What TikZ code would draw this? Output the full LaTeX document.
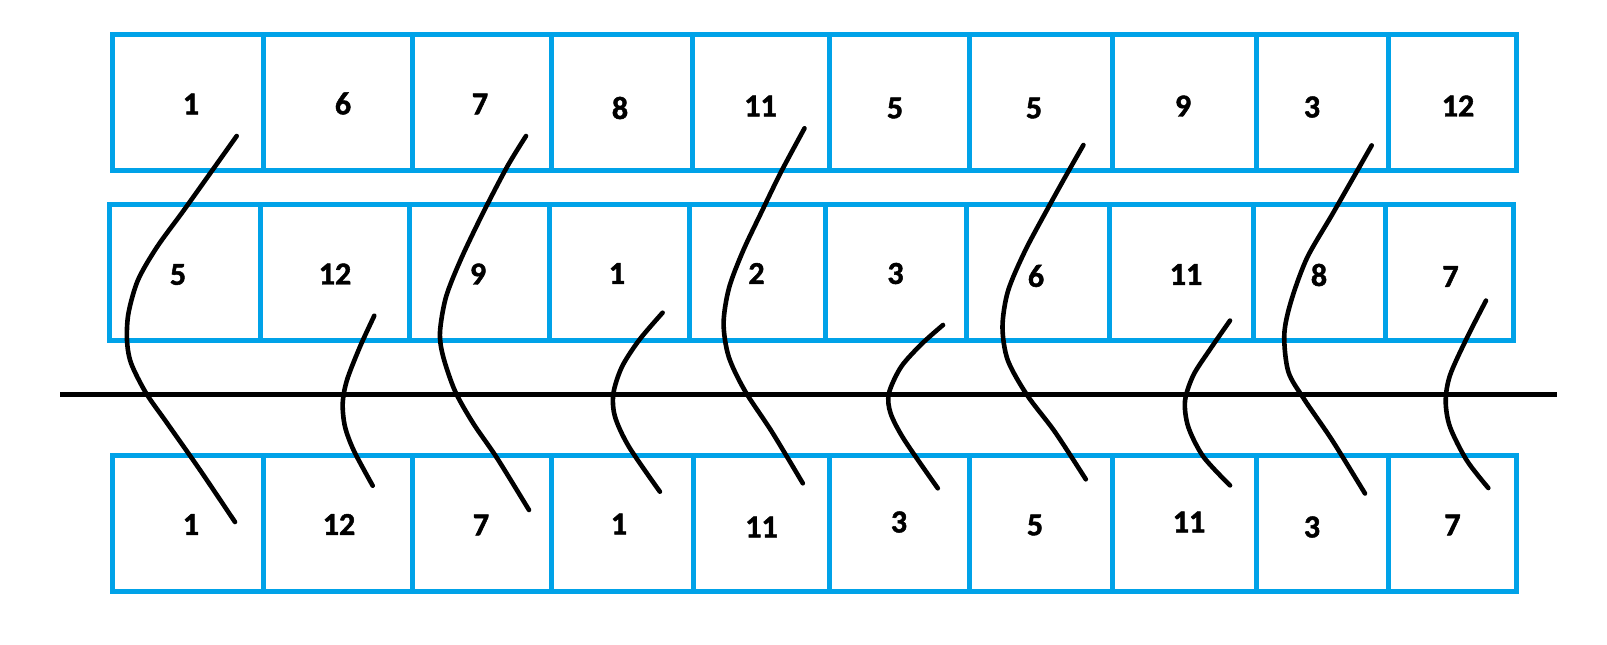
\documentclass[tikz,border=0pt]{standalone}
\usepackage{fontspec}
\setmainfont{Carlito}
\newfontfamily\digitfont{Carlito}[BoldFont={Carlito Bold},BoldFeatures={FakeBold=1.5}]
\definecolor{paintblue}{RGB}{0,162,232}
\begin{document}
\begin{tikzpicture}[x=1pt,y=-1pt,
  cellbox/.style={draw=paintblue,line width=5pt,line join=miter},
  lbl/.style={font=\digitfont\fontsize{32}{38}\selectfont\bfseries,inner sep=0pt,text=black},
  stroke/.style={draw=black,line width=4.6pt,line cap=round,line join=round},
  axis/.style={draw=black,line width=5.5pt}]
\useasboundingbox (0,0) rectangle (1607,645);
% row 1
\foreach \a/\b in {112.5/263.5,263.5/412.5,412.5/551.5,551.5/692.5,692.5/829,829/969.5,969.5/1112.5,1112.5/1256.5,1256.5/1388.5,1388.5/1516.5}
  \draw[cellbox] (\a,34.5) rectangle (\b,170);
% row 2
\foreach \a/\b in {109/260.5,260.5/409.5,409.5/549.5,549.5/689.5,689.5/825.5,825.5/966,966/1109,1109/1253.5,1253.5/1385.5,1385.5/1513.5}
  \draw[cellbox] (\a,204.5) rectangle (\b,340);
% row 3
\foreach \a/\b in {112.5/263.5,263.5/412.5,412.5/551.5,551.5/693,693/829.5,829.5/969.5,969.5/1112.5,1112.5/1256.5,1256.5/1388.5,1388.5/1516.5}
  \draw[cellbox] (\a,455) rectangle (\b,591);
% labels row 1
\node[lbl] (a1) at (191,104) {1};
\node[lbl] (a2) at (343,103.5) {6};
\node[lbl] (a3) at (480,104) {7};
\node[lbl] (a4) at (620,108) {8};
\node[lbl] (a5) at (760.5,106) {11};
\node[lbl] (a6) at (895,108) {5};
\node[lbl] (a7) at (1034,108) {5};
\node[lbl] (a8) at (1183,106) {9};
\node[lbl] (a9) at (1312,107) {3};
\node[lbl] (a10) at (1458,106) {12};
% labels row 2
\node[lbl] (b1) at (178,274.5) {5};
\node[lbl] (b2) at (335,274) {12};
\node[lbl] (b3) at (478,274) {9};
\node[lbl] (b4) at (617,273.5) {1};
\node[lbl] (b5) at (756.5,273.5) {2};
\node[lbl] (b6) at (895.5,273.5) {3};
\node[lbl] (b7) at (1036,276) {6};
\node[lbl] (b8) at (1186,274.5) {11};
\node[lbl] (b9) at (1319,275) {8};
\node[lbl] (b10) at (1450.5,276.5) {7};
% labels row 3
\node[lbl] (c1) at (191,524.5) {1};
\node[lbl] (c2) at (339,524.5) {12};
\node[lbl] (c3) at (481,525) {7};
\node[lbl] (c4) at (619,524) {1};
\node[lbl] (c5) at (761.5,527) {11};
\node[lbl] (c6) at (899,522) {3};
\node[lbl] (c7) at (1035,525) {5};
\node[lbl] (c8) at (1189,522) {11};
\node[lbl] (c9) at (1312,527) {3};
\node[lbl] (c10) at (1452.5,525) {7};
% horizontal line
\coordinate (h1) at (60,394.5);
\coordinate (h2) at (1557,394.5);
\draw[axis] (h1) -- (h2);
% long strokes
\draw[stroke] plot[smooth] coordinates {(236.7,136) (217.5,163) (184,210) (157,247) (138,280) (128.5,313) (127,340) (131,363) (146,393) (167,423) (200,470) (235,522)};
\draw[stroke] plot[smooth] coordinates {(526,136) (507,167) (483,213) (461,259) (446,297) (440,332) (443,356) (455,391) (473,423) (497,458) (529,510)};
\draw[stroke] plot[smooth] coordinates {(804.5,128.3) (781,172) (762,211) (743,251) (729,288) (723.6,323.3) (728.7,356.7) (745,391) (772,432) (802.8,483.3)};
\draw[stroke] plot[smooth] coordinates {(1083.4,145) (1068,172) (1048,208) (1025,251) (1008,291) (1002.5,326.7) (1007.7,360) (1027,395) (1055,432) (1085.8,479.3)};
\draw[stroke] plot[smooth] coordinates {(1371.7,145.4) (1333.3,212.6) (1307,258) (1291,301.4) (1284.3,334.6) (1288.3,371.6) (1304,399) (1332,440) (1365,493.5)};
% short strokes
\draw[stroke] plot[smooth] coordinates {(374.3,315.7) (360,346.7) (347,380) (342.7,403.3) (345,426.7) (354,451) (372.7,485.7)};
\draw[stroke] plot[smooth] coordinates {(662.6,312.7) (639.2,340) (622,366.7) (613.4,393.3) (615,416.7) (628.9,446.7) (659.9,491.7)};
\draw[stroke] plot[smooth] coordinates {(943,325) (921.6,344) (901,367) (888.9,393.3) (890.6,413.3) (904.4,440) (937.8,488.3)};
\draw[stroke] plot[smooth] coordinates {(1230,320.6) (1210,349.4) (1193.3,375.3) (1185,401.1) (1188.3,427) (1203.3,456.6) (1230,485.4)};
\draw[stroke] plot[smooth] coordinates {(1486,300.6) (1466.7,338.3) (1450,375.3) (1445.7,401.1) (1450,427) (1466.7,460.3) (1488.3,488)};
\end{tikzpicture}
\end{document}
